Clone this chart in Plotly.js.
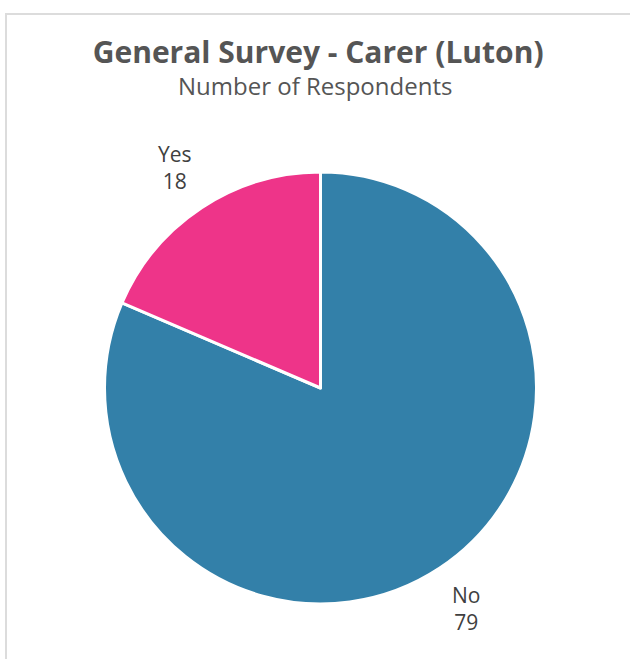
<!DOCTYPE html>
<html>
<head>
<meta charset="utf-8">
<script src="https://cdn.plot.ly/plotly-3.0.1.min.js"></script>
<style>
  html, body { margin: 0; padding: 0; background: #fff; }
  #frame { position: absolute; left: 5px; top: 13px; width: 640px; height: 660px;
           border-top: 2px solid #dcdcdc; border-left: 2px solid #dcdcdc; box-sizing: border-box; }
  #chart { position: absolute; left: 0; top: 0; width: 630px; height: 659px; }
</style>
</head>
<body>
<div id="frame"></div>
<div id="chart"></div>
<script>
const categories = ["No", "Yes"];
const values = [79, 18];
const colors = ["#3380A9", "#EE3489"];
const titleText = "General Survey - Carer (Luton)";
const subtitleText = "Number of Respondents";

const W = 630, H = 659;
const cx = 320.5, cyTop = 388, R = 216;
const domX = [(cx - R) / W, (cx + R) / W];
const domY = [(H - (cyTop + R)) / H, (H - (cyTop - R)) / H];

const total = values.reduce((a, b) => a + b, 0);
let cum = 0;
const annotations = categories.map((c, i) => {
  const mid = (cum + values[i] / 2) / total * 2 * Math.PI; cum += values[i];
  const rr = R * 1.222;
  const px = cx + rr * Math.sin(mid);
  const py = cyTop - rr * Math.cos(mid);
  return {
    text: c + "<br>" + values[i], x: px / W, y: 1 - py / H, xref: "paper", yref: "paper",
    showarrow: false, xanchor: "center", yanchor: "middle", align: "center",
    font: { family: "Open Sans, sans-serif", size: 21, color: "#404040" }
  };
});
annotations.push({
  text: subtitleText, x: 0.5, y: 1 - 86 / H, xref: "paper", yref: "paper",
  showarrow: false, xanchor: "center", yanchor: "middle",
  font: { family: "Open Sans, sans-serif", size: 24, color: "#555555" }
});

const data = [{
  type: "pie", labels: categories, values: values, sort: false, direction: "clockwise", rotation: 0,
  marker: { colors: colors, line: { color: "#ffffff", width: 3 } },
  textinfo: "none", hoverinfo: "label+value", showlegend: false,
  domain: { x: domX, y: domY }
}];

const layout = {
  width: W, height: H, margin: { l: 0, r: 0, t: 0, b: 0 },
  paper_bgcolor: "rgba(0,0,0,0)", plot_bgcolor: "rgba(0,0,0,0)",
  title: {
    text: titleText, x: 0.505, xanchor: "center", y: 1 - 52 / H, yanchor: "middle", yref: "container",
    font: { family: "Open Sans, sans-serif", size: 30, color: "#555555", weight: "bold" }
  },
  annotations: annotations,
  showlegend: false
};

Plotly.newPlot("chart", data, layout, { displayModeBar: false, staticPlot: true });
</script>
</body>
</html>
